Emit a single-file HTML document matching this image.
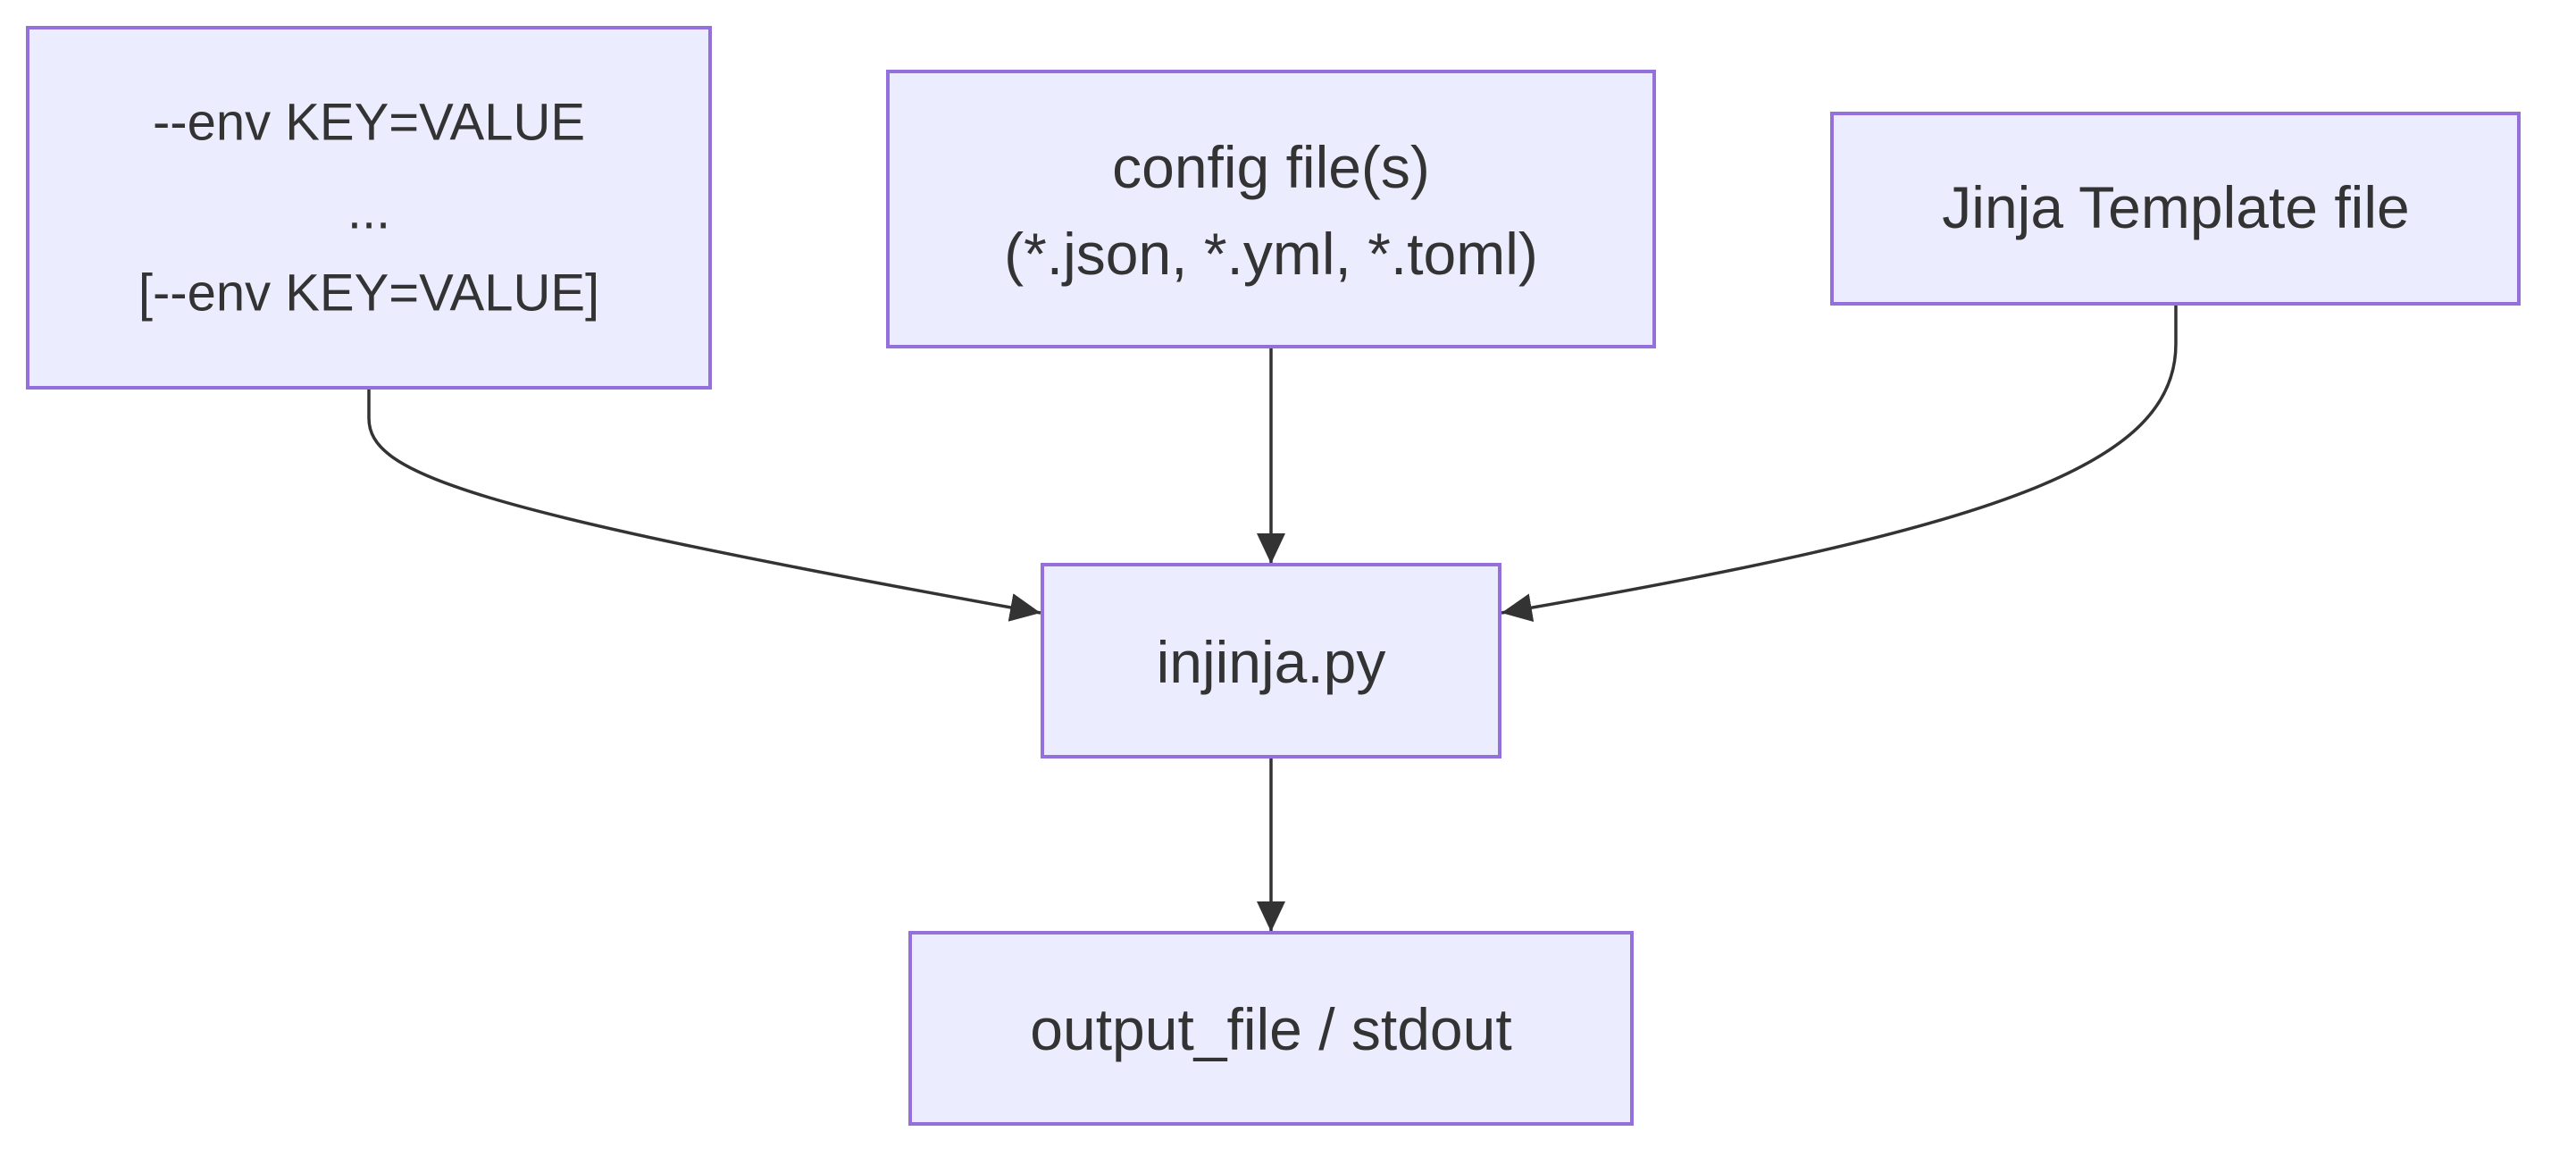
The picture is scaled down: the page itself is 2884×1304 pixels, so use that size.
<!DOCTYPE html>
<html><head><meta charset="utf-8"><style>
html,body{margin:0;padding:0;background:#fff;}
svg{display:block;}
text{font-family:"Liberation Sans",sans-serif;font-size:66px;fill:#333;text-anchor:middle;dominant-baseline:central;}
text.k{font-size:58px;}
</style></head><body>
<svg width="2884" height="1304" viewBox="0 0 2884 1304" xmlns="http://www.w3.org/2000/svg">
<defs>
<marker id="a" markerUnits="userSpaceOnUse" markerWidth="36" markerHeight="32" refX="34" refY="16" orient="auto">
<path d="M0,0 L34,16 L0,32 z" fill="#333"/>
</marker>
</defs>
<g fill="none" stroke="#333" stroke-width="3.5">
<path d="M413,436 L413,468 C413,530 520,570 1165,686" marker-end="url(#a)"/>
<path d="M1423,390 L1423,631" marker-end="url(#a)"/>
<path d="M2436,342 L2436,385 C2436,520 2240,590 1681,686" marker-end="url(#a)"/>
<path d="M1423,849 L1423,1043" marker-end="url(#a)"/>
</g>
<g fill="#ECECFF" stroke="#9370DB" stroke-width="4">
<rect x="31" y="31" width="764" height="403"/>
<rect x="994" y="80" width="858" height="308"/>
<rect x="2051" y="127" width="769" height="213"/>
<rect x="1167" y="632" width="512" height="215"/>
<rect x="1019" y="1044" width="808" height="214"/>
</g>
<text class="k" x="413" y="137">--env KEY=VALUE</text>
<text class="k" x="413" y="236">...</text>
<text class="k" x="413" y="328">[--env KEY=VALUE]</text>
<text x="1423" y="187">config file(s)</text>
<text x="1423" y="284">(*.json, *.yml, *.toml)</text>
<text x="2436" y="232">Jinja Template file</text>
<text x="1423" y="741">injinja.py</text>
<text x="1423" y="1152">output_file / stdout</text>
</svg>
</body></html>
